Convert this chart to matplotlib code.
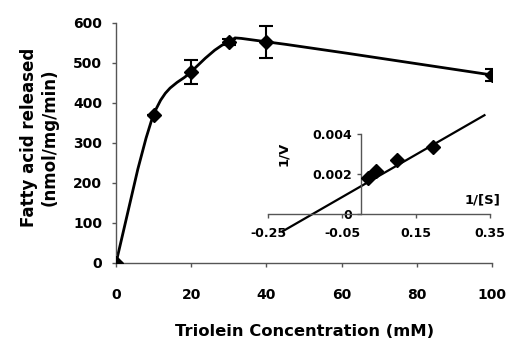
import numpy as np
import matplotlib
matplotlib.use("Agg")
import matplotlib.pyplot as plt
from matplotlib.path import Path
from matplotlib.patches import PathPatch

# ---- data ----
conc = [0, 10, 20, 30, 40, 100]
rate = [0, 370, 478, 553, 553, 470]
rate_err = [0, 0, 30, 8, 40, 16]

inv_s = [0.02, 0.043, 0.098, 0.197]
inv_v = [0.0018, 0.00215, 0.0027, 0.00335]
fit_x = [-0.21, 0.335]
fit_y = [-0.00086, 0.00494]

x_ticks = [0, 20, 40, 60, 80, 100]
y_ticks = [0, 100, 200, 300, 400, 500, 600]
inset_xticks = [-0.25, -0.05, 0.15, 0.35]
inset_xticklabels = ["-0.25", "-0.05", "0.15", "0.35"]
inset_yticks = [0, 0.002, 0.004]
inset_yticklabels = ["0", "0.002", "0.004"]

plt.rcParams["font.family"] = ["DejaVu Sans"]
plt.rcParams["font.weight"] = "bold"


def smooth_path(x, y, tension=1/6):
    """Excel-style smoothed line as cubic Bezier segments."""
    P = np.column_stack([x, y]).astype(float)
    n = len(P)
    verts = [P[0]]
    codes = [Path.MOVETO]
    for i in range(n - 1):
        p0 = P[i - 1] if i > 0 else P[i]
        p1, p2 = P[i], P[i + 1]
        p3 = P[i + 2] if i + 2 < n else P[i + 1]
        c1 = p1 + (p2 - p0) * tension
        c2 = p2 - (p3 - p1) * tension
        verts += [c1, c2, p2]
        codes += [Path.CURVE4] * 3
    return Path(verts, codes)


fig = plt.figure(figsize=(5.12, 3.47), dpi=100)
W, H = 512, 347
ax = fig.add_axes([116/W, 1-263/H, (492-116)/W, (263-23)/H])

ax.add_patch(PathPatch(smooth_path(conc, rate), facecolor="none",
                       edgecolor="black", lw=2, zorder=2))
ax.errorbar(conc, rate, yerr=rate_err, fmt="D", color="black", ms=7.5,
            capsize=5, elinewidth=1.5, capthick=1.5, zorder=3)

ax.set_xlim(0, 100)
ax.set_ylim(0, 600)
ax.set_xticks(x_ticks)
ax.set_yticks(y_ticks)
for s in ["top", "right"]:
    ax.spines[s].set_visible(False)
for s in ["left", "bottom"]:
    ax.spines[s].set_color("#555555")
    ax.spines[s].set_linewidth(1.0)
ax.tick_params(axis="both", labelsize=10, length=3, color="#555555", width=1)
ax.tick_params(axis="x", pad=15)
ax.tick_params(axis="y", pad=7)
for lab in ax.get_xticklabels() + ax.get_yticklabels():
    lab.set_fontweight("bold")
ax.set_xlabel("Triolein Concentration (mM)", fontsize=11.8, fontweight="bold")
ax.xaxis.label.set_va("center")
ax.xaxis.set_label_coords((305 - 116) / 376, (263 - 332) / 240)
ax.set_ylabel("Fatty acid released\n(nmol/mg/min)", fontsize=12, fontweight="bold",
              linespacing=1.2)
ax.yaxis.label.set_va("center")
ax.yaxis.set_label_coords((39.5 - 116) / 376, (263 - 137) / 240)

# ---- inset (Lineweaver-Burk) ----
ix0, ix1 = 268, 490          # pixel positions of -0.25 and 0.35
y0px, y004 = 214, 134        # pixel positions of 0 and 0.004
ylo, yhi = -0.0013, 0.0052
ppu = (y0px - y004) / 0.004
top_px = y0px - yhi * ppu
bot_px = y0px - ylo * ppu
iax = fig.add_axes([ix0/W, 1-bot_px/H, (ix1-ix0)/W, (bot_px-top_px)/H])
iax.patch.set_alpha(0)
iax.set_xlim(-0.25, 0.35)
iax.set_ylim(ylo, yhi)
iax.plot(fit_x, fit_y, color="black", lw=1.6, zorder=2)
iax.plot(inv_s, inv_v, "D", color="black", ms=7, zorder=3)
for s in ["top", "right"]:
    iax.spines[s].set_visible(False)
iax.spines["left"].set_position(("data", 0))
iax.spines["bottom"].set_position(("data", 0))
iax.spines["left"].set_bounds(0, 0.004)
iax.spines["bottom"].set_bounds(-0.25, 0.35)
for s in ["left", "bottom"]:
    iax.spines[s].set_color("#555555")
    iax.spines[s].set_linewidth(1.0)
iax.set_xticks(inset_xticks)
iax.set_xticklabels(inset_xticklabels)
iax.set_yticks(inset_yticks)
iax.set_yticklabels(inset_yticklabels)
iax.tick_params(axis="both", labelsize=9, length=3, color="#555555", width=1)
iax.tick_params(axis="x", pad=6)
iax.tick_params(axis="y", pad=3)
for lab in iax.get_xticklabels() + iax.get_yticklabels():
    lab.set_fontweight("bold")
iax.text(-0.207, 0.003, "1/V", rotation=90, ha="center", va="center",
         fontsize=9.5, fontweight="bold")
iax.text(0.33, 0.0004, "1/[S]", ha="center", va="bottom",
         fontsize=9.5, fontweight="bold")

fig.savefig("out.png", dpi=100)
